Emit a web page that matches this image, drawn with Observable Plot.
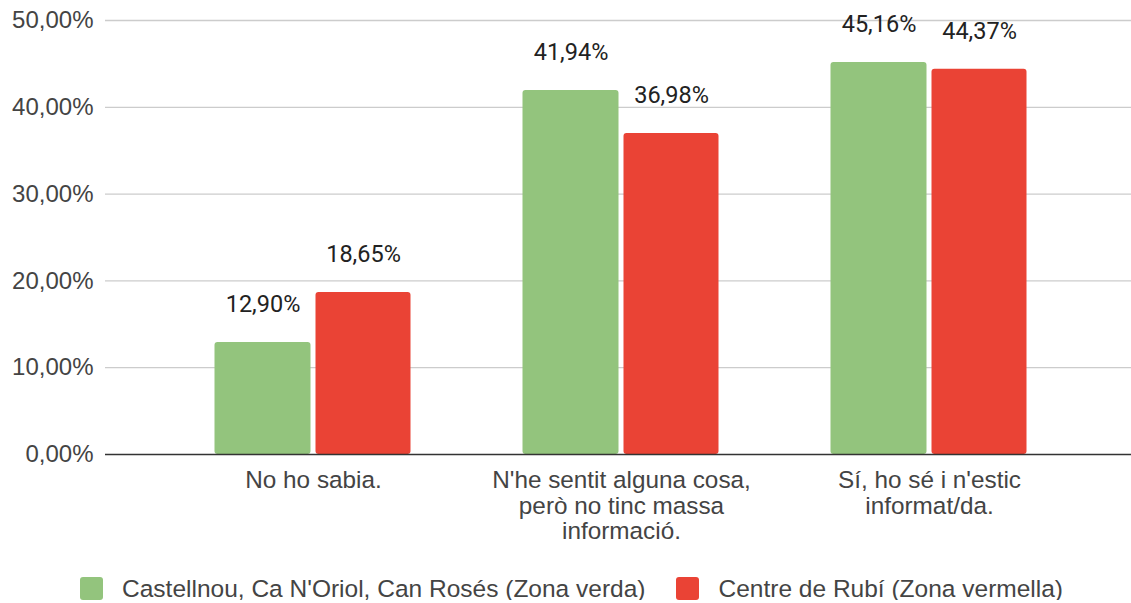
<!DOCTYPE html>
<html>
<head>
<meta charset="utf-8">
<script src="https://cdn.jsdelivr.net/npm/d3@7"></script>
<script src="https://cdn.jsdelivr.net/npm/@observablehq/plot@0.6"></script>
<style>
  html, body { margin: 0; padding: 0; background: #fff; }
  #chart { width: 1131px; }
  #legend { display: flex; justify-content: center; align-items: center; margin-top: 12px; height: 23px; width: 1131px;
    box-sizing: border-box; padding-left: 12px;
    font-family: "Liberation Sans", Arial, sans-serif; font-size: 24.5px; color: #444; }
  .item { display: flex; align-items: center; white-space: nowrap; }
  .item + .item { margin-left: 31px; }
  .sw { width: 23px; height: 23px; border-radius: 3px; margin-right: 19px; }
</style>
</head>
<body>
<div id="chart"></div>
<script>
const categories = [
  "No ho sabia.",
  "N'he sentit alguna cosa,\nperò no tinc massa\ninformació.",
  "Sí, ho sé i n'estic\ninformat/da."
];
const seriesNames = [
  "Castellnou, Ca N'Oriol, Can Rosés (Zona verda)",
  "Centre de Rubí (Zona vermella)"
];
const seriesColors = ["#93c47d", "#ea4335"];
const greenValues = [12.90, 41.94, 45.16];
const redValues = [18.65, 36.98, 44.37];
const yTicks = [0, 10, 20, 30, 40, 50];

const fmt = v => v.toFixed(2).replace(".", ",") + "%";
const green = categories.map((c, i) => ({cat: c, value: greenValues[i]}));
const red = categories.map((c, i) => ({cat: c, value: redValues[i]}));

const chart = Plot.plot({
  width: 1131,
  height: 565,
  marginLeft: 105,
  marginRight: 0,
  marginTop: 20,
  marginBottom: 111,
  style: {fontFamily: "'Liberation Sans', Arial, sans-serif", fontSize: "24px", color: "#444", background: "#fff"},
  x: {type: "band", domain: categories, range: [158.5, 1082.5], padding: 0, axis: null},
  y: {domain: [0, 50], axis: null},
  marks: [
    Plot.ruleY(yTicks.filter(t => t > 0), {stroke: "#cccccc", strokeWidth: 1.3}),
    Plot.axisY({ticks: yTicks, tickFormat: fmt, tickSize: 0, tickPadding: 12, label: null, fontSize: 24, fill: "#444"}),
    Plot.barY(green, {x: "cat", y: "value", fill: seriesColors[0], insetLeft: 55.5, insetRight: 156.5, rx: 3}),
    Plot.barY(red, {x: "cat", y: "value", fill: seriesColors[1], insetLeft: 156.5, insetRight: 56.5, rx: 3}),
    Plot.ruleY([0], {stroke: "#333", strokeWidth: 1.3}),
    Plot.text(green, {x: "cat", y: "value", text: d => fmt(d.value), dx: -50.5, dy: -38, fontFamily: "Roboto", fontSize: 23.5, fill: "#222"}),
    Plot.text(red, {x: "cat", y: "value", text: d => fmt(d.value), dx: 50, dy: -38, fontFamily: "Roboto", fontSize: 23.5, fill: "#222"}),
    Plot.text(categories, {x: d => d, y: () => 0, text: d => d, lineAnchor: "top", dy: 16, lineHeight: 1.04, fontSize: 24.3, fill: "#444"})
  ]
});
document.getElementById("chart").appendChild(chart);

const legend = document.createElement("div");
legend.id = "legend";
seriesNames.forEach((name, i) => {
  const item = document.createElement("div");
  item.className = "item";
  const sw = document.createElement("div");
  sw.className = "sw";
  sw.style.background = seriesColors[i];
  const label = document.createElement("span");
  label.textContent = name;
  item.appendChild(sw);
  item.appendChild(label);
  legend.appendChild(item);
});
document.body.appendChild(legend);
</script>
</body>
</html>
